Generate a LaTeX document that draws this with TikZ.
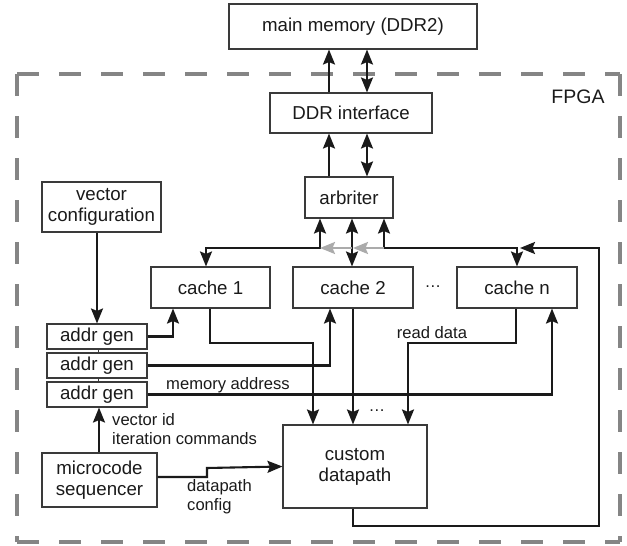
\documentclass[tikz,border=0pt]{standalone}
\usepackage{fontspec}
\setmainfont{Liberation Sans}
\usetikzlibrary{arrows.meta}
\definecolor{linec}{HTML}{1A1A1A}
\definecolor{boxc}{HTML}{3A3A3A}
\definecolor{framec}{HTML}{858585}
\definecolor{grayarr}{HTML}{ABABAB}
\begin{document}
\begin{tikzpicture}[x=1pt,y=-1pt,
  box/.style={draw=boxc, line width=1.1pt, fill=white, inner sep=0pt, align=center,
    font=\fontsize{18.7}{21}\selectfont, text=linec},
  lbl/.style={inner sep=0pt, font=\fontsize{16.6}{19}\selectfont, text=linec},
  tip/.tip={Stealth[length=15pt,width=12pt,inset=2.5pt]},
  arr/.style={line width=2.1pt, draw=linec, -tip},
  darr/.style={line width=2.1pt, draw=linec, tip-tip},
  garr/.style={line width=2.1pt, draw=grayarr, -{Stealth[length=15pt,width=12pt,inset=2.5pt]}},
  thin/.style={line width=1pt, draw=boxc},
  frame/.style={line width=4.5pt, draw=framec, dash pattern=on 22pt off 20pt}
]
\useasboundingbox (0,0) rectangle (627,546);

% FPGA frame
\coordinate (ftl) at (17,74);
\coordinate (ftr) at (620,74);
\coordinate (fbl) at (17,542);
\coordinate (fbr) at (620,542);
\draw[frame] (ftl) -- (ftr);
\draw[frame] (ftr) -- (fbr);
\draw[frame] (ftl) -- (fbl);
\draw[frame] (fbl) -- (fbr);
\node[lbl, font=\fontsize{19.5}{22}\selectfont] (fpga) at (578,97) {FPGA};

% boxes
\node[box, minimum width=248pt, minimum height=45pt] (mem) at (353,26.5) {main memory (DDR2)};
\node[box, minimum width=162pt, minimum height=40pt] (ddr) at (351,113) {DDR interface};
\node[box, minimum width=88pt, minimum height=41pt] (arb) at (349,197.5) {arbriter};
\node[box, minimum width=119pt, minimum height=50pt] (vcfg) at (101.5,207) {vector\\configuration};
\node[box, minimum width=119pt, minimum height=41pt] (c1) at (210.5,287.5) {cache 1};
\node[box, minimum width=120pt, minimum height=41pt] (c2) at (353,287.5) {cache 2};
\node[box, minimum width=120pt, minimum height=41pt] (cn) at (517,287.5) {cache n};
\node[box, minimum width=100pt, minimum height=25pt] (ag1) at (97,336.5) {addr gen};
\node[box, minimum width=100pt, minimum height=25pt] (ag2) at (97,365.5) {addr gen};
\node[box, minimum width=100pt, minimum height=25pt] (ag3) at (97,394.5) {addr gen};
\node[box, minimum width=115pt, minimum height=54pt] (mseq) at (99.5,480) {microcode\\sequencer};
\node[box, minimum width=144pt, minimum height=83pt] (dp) at (355,466.5) {custom\\datapath};

% x positions
\coordinate (x97) at (97,0);
\coordinate (x98) at (98,0);
\coordinate (x99) at (99,0);
\coordinate (x173) at (173,0);
\coordinate (x206) at (206,0);
\coordinate (x210) at (210,0);
\coordinate (x313) at (313,0);
\coordinate (x320) at (320,0);
\coordinate (x329) at (329,0);
\coordinate (x330) at (330,0);
\coordinate (x352) at (352,0);
\coordinate (x353) at (353,0);
\coordinate (x367) at (367,0);
\coordinate (x384) at (384,0);
\coordinate (x408) at (408,0);
\coordinate (x516) at (516,0);
\coordinate (x517) at (517,0);
\coordinate (x552) at (552,0);
% bends
\coordinate (bus) at (0,248);
\coordinate (rd) at (0,343);
\coordinate (lb) at (0,526);
\coordinate (rr) at (599,0);
\coordinate (busR) at (599,248);
\coordinate (busTip) at (520,248);
\coordinate (dpc1) at (207,477);
\coordinate (dpc2) at (207,468);

% memory <-> DDR interface
\draw[arr] (ddr.north -| x329) -- (mem.south -| x329);
\draw[darr] (ddr.north -| x367) -- (mem.south -| x367);
% DDR interface <-> arbiter
\draw[arr] (arb.north -| x329) -- (ddr.south -| x329);
\draw[darr] (arb.north -| x367) -- (ddr.south -| x367);

% arbiter <-> caches
\draw[darr] (arb.south -| x320) -- (bus -| x320) -- (bus -| x206) -- (c1.north -| x206);
\draw[darr] (arb.south -| x352) -- (c2.north -| x352);
\draw[darr] (arb.south -| x384) -- (bus -| x384) -- (bus -| x517) -- (cn.north -| x517);
\draw[garr] (bus -| x384) -- (bus -| x353);
\draw[garr] (bus -| x352) -- (bus -| x320);

% datapath write-back
\draw[arr] (dp.south -| x353) -- (lb -| x353) -- (lb -| rr) -- (busR) -- (busTip);

% address generators
\draw[arr] (vcfg.south -| x97) -- (ag1.north -| x97);
\draw[thin] (ag1.south -| x98) -- (ag2.north -| x98);
\draw[thin] (ag2.south -| x98) -- (ag3.north -| x98);
\draw[arr] (mseq.north -| x99) -- (ag3.south -| x99);

\draw[arr] (ag1.east) -- (ag1.east -| x173) -- (c1.south -| x173);
\draw[arr] (ag2.east) -- (ag2.east -| x330) -- (c2.south -| x330);
\draw[arr] (ag3.east) -- (ag3.east -| x552) -- (cn.south -| x552);

% read data
\draw[arr] (c1.south -| x210) -- (rd -| x210) -- (rd -| x313) -- (dp.north -| x313);
\draw[arr] (c2.south -| x353) -- (dp.north -| x353);
\draw[arr] (cn.south -| x516) -- (rd -| x516) -- (rd -| x408) -- (dp.north -| x408);

% datapath config
\draw[arr] ([yshift=3pt]mseq.east) -- (dpc1) -- (dpc2) -- (dp.west);

% labels
\node[lbl] (dots1) at (433,287) {…};
\node[lbl] (dots2) at (377,411) {…};
\node[lbl] (rdl) at (432,333) {read data};
\node[lbl] (mal) at (228,385) {memory address};
\node[lbl, anchor=north west, align=left] (vid) at (112,413) {vector id\\iteration commands};
\node[lbl, anchor=north west, align=left] (dpl) at (187,479) {datapath\\config};
\end{tikzpicture}
\end{document}
